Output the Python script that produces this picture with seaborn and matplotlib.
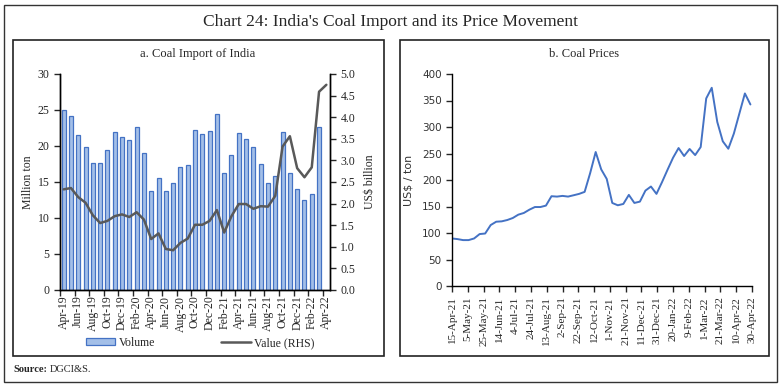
import numpy as np
import pandas as pd
import matplotlib.pyplot as plt
from matplotlib.patches import Rectangle, Patch
from matplotlib.lines import Line2D
import seaborn as sns

# ---- data: panel a (monthly, Apr-19 .. Apr-22)
months = pd.date_range('2019-04-01', '2022-04-01', freq='MS').strftime('%b-%y').tolist()
volume = [25.0, 24.1, 21.5, 19.9, 17.7, 17.7, 19.4, 22.0, 21.3, 20.8, 22.7, 19.0,
          13.7, 15.6, 13.7, 14.8, 17.1, 17.4, 22.2, 21.7, 22.1, 24.5, 16.2, 18.8,
          21.8, 21.0, 19.9, 17.5, 14.8, 15.8, 22.0, 16.2, 14.0, 12.5, 13.4, 22.7, np.nan]
value = [2.33, 2.36, 2.15, 2.02, 1.73, 1.55, 1.60, 1.71, 1.75, 1.69, 1.80, 1.63,
         1.18, 1.31, 0.95, 0.92, 1.09, 1.19, 1.51, 1.51, 1.60, 1.85, 1.33, 1.71,
         1.99, 1.99, 1.88, 1.94, 1.93, 2.18, 3.32, 3.56, 2.82, 2.61, 2.84, 4.59, 4.75]

# ---- data: panel b (weekly coal price, US$/ton)
price_dates = pd.date_range('2021-04-15', periods=55, freq='7D')
price = [89.7, 88.5, 86.6, 86.6, 89.7, 98.0, 99.0, 115.0, 121.3, 122.0, 124.5,
         128.3, 134.6, 137.8, 144.0, 149.0, 149.0, 151.7, 169.4, 168.7, 170.0,
         168.7, 171.2, 173.8, 177.6, 213.0, 252.8, 220.0, 202.0, 156.7, 152.3,
         154.8, 171.9, 156.7, 159.2, 180.0, 187.7, 173.8, 195.9, 219.3, 242.0,
         260.3, 245.2, 258.5, 247.0, 262.2, 353.9, 374.0, 309.6, 273.0, 259.0,
         287.5, 325.4, 363.3, 342.5]
price_ticks = pd.date_range('2021-04-15', '2022-04-30', freq='20D')

df_a = pd.DataFrame({'month': months, 'volume': volume, 'value': value})
df_b = pd.DataFrame({'date': price_dates, 'price': price})

sns.set_theme(style='white')
plt.rcParams['font.family'] = ['Liberation Serif', 'DejaVu Serif']
plt.rcParams['axes.edgecolor'] = '#000000'
plt.rcParams['axes.linewidth'] = 1.0

fig = plt.figure(figsize=(7.81, 3.85), dpi=100)

bar_fill = '#a3bfe8'
bar_edge = '#4472c4'
line_grey = '#595959'

# frames
fig.patches.append(Rectangle((0.005, 0.008), 0.99, 0.98, transform=fig.transFigure,
                             fill=False, edgecolor='#333333', lw=1.0))
fig.patches.append(Rectangle((13/781, 1 - 356/385), (384-13)/781, (356-40)/385,
                             transform=fig.transFigure, fill=False, edgecolor='#222222', lw=1.2))
fig.patches.append(Rectangle((400/781, 1 - 356/385), (769-400)/781, (356-40)/385,
                             transform=fig.transFigure, fill=False, edgecolor='#222222', lw=1.2))

fig.text(0.5, 1 - 22/385, "Chart 24: India's Coal Import and its Price Movement",
         ha='center', va='center', fontsize=12.5)
fig.text(198/781, 1 - 54/385, 'a. Coal Import of India', ha='center', va='center', fontsize=9)
fig.text(584/781, 1 - 54/385, 'b. Coal Prices', ha='center', va='center', fontsize=9)
fig.text(13/781, 1 - 370/385, 'Source:', ha='left', va='center', fontsize=7.5, weight='bold')
fig.text(50/781, 1 - 370/385, 'DGCI&S.', ha='left', va='center', fontsize=7.5)

# ---- panel a
ax = fig.add_axes([60/781, 1 - 290/385, 270/781, 216/385])
sns.barplot(data=df_a, x='month', y='volume', order=months, color=bar_fill,
            edgecolor=bar_edge, linewidth=0.9, width=0.55, saturation=1, ax=ax)
ax2 = ax.twinx()
sns.lineplot(x=df_a.index, y=df_a['value'], color=line_grey, lw=1.8, ax=ax2)

ax.set_xlim(-0.5, len(months) - 0.5)
ax.set_ylim(0, 30)
ax.set_yticks(range(0, 31, 5))
ax2.set_ylim(0, 5)
ax2.set_yticks(np.arange(0, 5.01, 0.5))
ax2.set_yticklabels([f'{v:.1f}' for v in np.arange(0, 5.01, 0.5)])
ax.set_xticks(range(0, len(months), 2))
ax.set_xticklabels(months[::2], rotation=90)
ax.set_xticks(np.arange(-0.5, len(months), 2), minor=True)
ax.tick_params(axis='x', which='major', length=0, labelsize=8.5, pad=4)
ax.tick_params(axis='x', which='minor', length=4, width=1, bottom=True)
ax.tick_params(axis='y', length=4, width=1, labelsize=8.5, left=True)
ax2.tick_params(axis='y', length=4, width=1, labelsize=8.5, right=True)
ax.set_xlabel('')
ax.set_ylabel('Million ton', fontsize=8.5, labelpad=3)
ax2.set_ylabel('US$ billion', fontsize=8.5, labelpad=6)
ax.spines['top'].set_visible(False)
ax2.spines['top'].set_visible(False)

handles = [Patch(facecolor=bar_fill, edgecolor=bar_edge, lw=0.9),
           Line2D([0], [0], color=line_grey, lw=1.8)]
fig.legend(handles, ['Volume', 'Value (RHS)'], loc='center', ncol=2,
           bbox_to_anchor=(200/781, 1 - 343/385), frameon=False, fontsize=8.5,
           handlelength=2.5, handleheight=0.5, columnspacing=5.6, handletextpad=0.3)

# ---- panel b
bx = fig.add_axes([452/781, 1 - 286/385, 300/781, 212/385])
sns.lineplot(data=df_b, x='date', y='price', color='#4472c4', lw=1.4, ax=bx)
bx.set_xlim(pd.Timestamp('2021-04-15'), pd.Timestamp('2022-04-30'))
bx.set_ylim(0, 400)
bx.set_yticks(range(0, 401, 50))
bx.set_xticks(price_ticks)
bx.set_xticklabels([f'{d.day}-{d.strftime("%b-%y")}' for d in price_ticks], rotation=90)
bx.tick_params(axis='x', length=4, width=1, labelsize=8, bottom=True)
bx.tick_params(axis='y', length=4, width=1, labelsize=7.5, left=True)
for lab in bx.get_yticklabels():
    lab.set_fontfamily('DejaVu Sans')
    lab.set_color('#333333')
bx.set_xlabel('')
bx.set_ylabel('US$ / ton', fontsize=8, family='DejaVu Sans', color='#333333', labelpad=6)
bx.spines['top'].set_visible(False)
bx.spines['right'].set_visible(False)

fig.savefig('out.png', dpi=100)
